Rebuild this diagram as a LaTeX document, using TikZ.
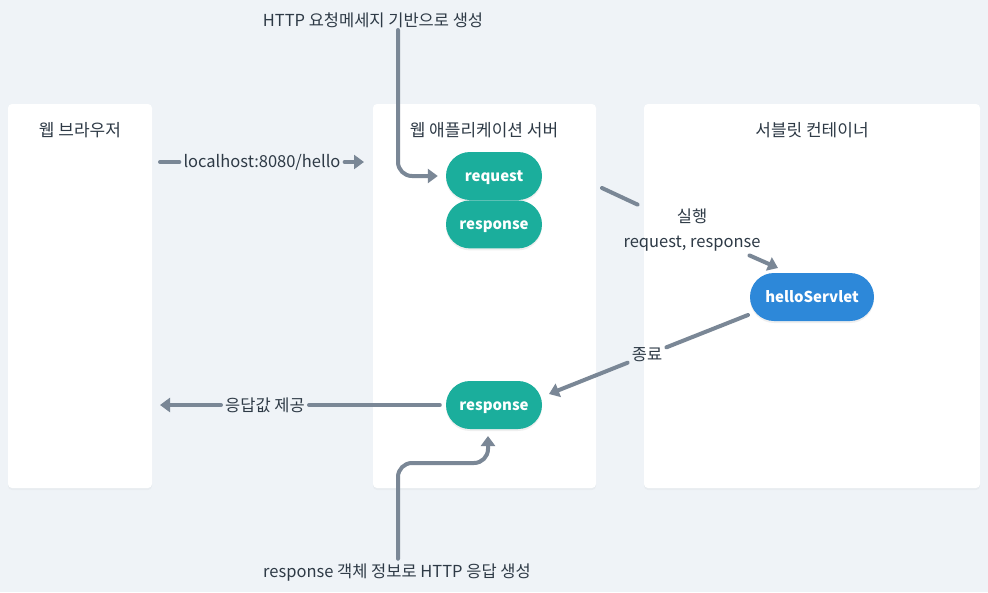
\documentclass[tikz,border=0pt]{standalone}
\usepackage{fontspec}
\setmainfont{Noto Sans CJK KR}
\usepackage{xcolor}
\usetikzlibrary{shapes,arrows.meta,positioning,shadows}

\definecolor{pagebg}{HTML}{EFF3F7}
\definecolor{flowgray}{HTML}{7A8796}
\definecolor{tealfill}{HTML}{1BAE9C}
\definecolor{bluefill}{HTML}{2D88D9}
\definecolor{inktext}{HTML}{2E3A46}

\begin{document}
\begin{tikzpicture}[
    x=1pt, y=-1pt,
    font=\fontsize{16.5}{20}\selectfont,
    text=inktext,
    panel/.style={fill=white, rounded corners=4pt, drop shadow={opacity=0.06, shadow xshift=0pt, shadow yshift=-2pt}},
    title/.style={font=\fontsize{17}{20}\selectfont},
    pill/.style={rectangle, rounded corners=24pt, minimum width=96pt, minimum height=48pt, text=white, text height=1.1em, text depth=0em, font=\fontsize{15}{18}\selectfont\bfseries, fill=tealfill, drop shadow={opacity=0.12, shadow xshift=0pt, shadow yshift=-2pt}},
    line/.style={draw=flowgray, line width=4pt, line cap=round},
    arrow/.style={line, -{Triangle[length=10pt, width=14pt]}},
    label/.style={inner sep=4pt, align=center}
]

    % Background and canvas
    \fill[pagebg] (0,0) rectangle (988,592);
    \useasboundingbox (0,0) rectangle (988,592);

    % Panels
    \path[panel] (8,104) rectangle (152,488);
    \path[panel] (373,104) rectangle (596,488);
    \path[panel] (644,104) rectangle (980,488);

    \node[title] (browser) at (80,130) {웹 브라우저};
    \node[title] (server) at (484,130) {웹 애플리케이션 서버};
    \node[title] (container) at (812,130) {서블릿 컨테이너};

    % Objects
    \node[pill] (request) at (494,176) {request};
    \node[pill, below=0pt of request] (responseTop) {response};
    \node[pill] (responseBottom) at (494,405) {response};
    \node[pill, fill=bluefill, minimum width=124pt] (helloServlet) at (812,297) {helloServlet};

    % Notes
    \node (genText) at (373,20) {HTTP 요청메세지 기반으로 생성};
    \node (buildText) at (397,573) {response 객체 정보로 HTTP 응답 생성};

    %--- Request flow ---
    \coordinate (browserOut) at (160,162);
    \coordinate (serverIn) at (364,162);
    \node[label] (urlLabel) at (262,162) {localhost:8080/hello};
    \draw[line] (browserOut) -- (urlLabel);
    \draw[arrow] (urlLabel) -- (serverIn);

    \draw[arrow, rounded corners=14pt] ([xshift=25pt, yshift=1pt]genText.south) |- ([xshift=-8pt]request.west);

    \coordinate (execStart) at (602,188);
    \coordinate (servletIn) at (778,268);
    \node[label] (execLabel) at (692,230) {실행\\[5pt]request, response};
    \draw[line] (execStart) -- (execLabel);
    \draw[arrow] (execLabel) -- (servletIn);

    %--- Response flow ---
    \coordinate (servletOut) at (748,315);
    \coordinate (respIn) at (549,394);
    \node[label] (endLabel) at (647,355) {종료};
    \draw[line] (servletOut) -- (endLabel);
    \draw[arrow] (endLabel) -- (respIn);

    \draw[arrow, rounded corners=14pt] ([xshift=1pt, yshift=2pt]buildText.north) |- (488,463) -- (488,436);

    \coordinate (browserIn) at (160,405);
    \node[label] (replyLabel) at (265,405) {응답값 제공};
    \draw[line] ([xshift=-6pt]responseBottom.west) -- (replyLabel);
    \draw[arrow] (replyLabel) -- (browserIn);

\end{tikzpicture}
\end{document}
